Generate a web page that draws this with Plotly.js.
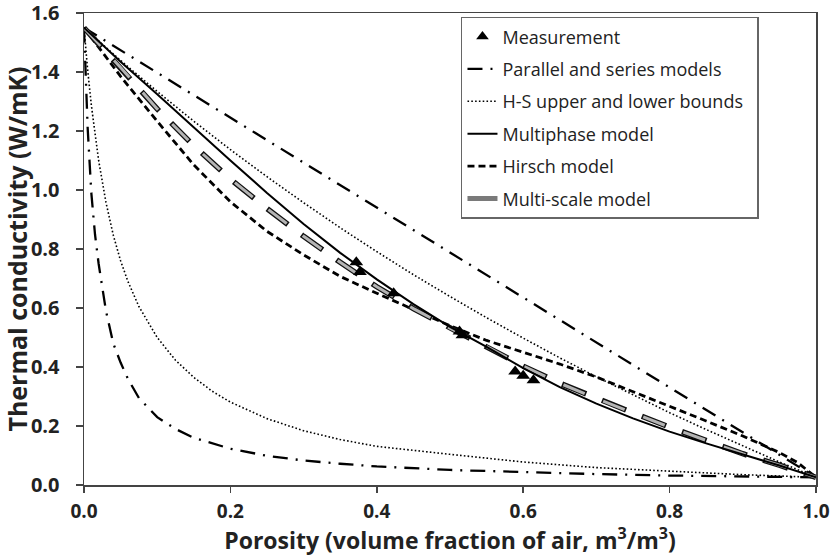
<!DOCTYPE html>
<html><head><meta charset="utf-8">
<script src="https://cdn.plot.ly/plotly-3.0.1.min.js"></script>
<style>html,body{margin:0;padding:0;background:#fff}</style>
</head><body><div id="chart" style="width:831px;height:556px"></div>
<script>
// Measurements
const measPorosity = [0.372, 0.377, 0.423, 0.513, 0.517, 0.589, 0.600, 0.614];
const measK        = [0.755, 0.722, 0.650, 0.520, 0.508, 0.385, 0.370, 0.355];

// Parallel (upper) and series (lower) models
const parPorosity = [0, 1];
const parK        = [1.55, 0.026];
const serPorosity = [0, 0.0025, 0.005, 0.01, 0.015, 0.02, 0.03, 0.04, 0.05, 0.06, 0.075, 0.1, 0.125, 0.15, 0.2, 0.25, 0.3, 0.35, 0.4, 0.5, 0.6, 0.7, 0.8, 0.9, 1.0];
const serK        = [1.55, 1.36, 1.21, 0.99, 0.85, 0.75, 0.59, 0.48, 0.415, 0.36, 0.295, 0.23, 0.19, 0.16, 0.123, 0.099, 0.083, 0.072, 0.063, 0.051, 0.043, 0.037, 0.032, 0.029, 0.026];

// H-S upper and lower bounds
const hsUpPorosity = [0, 0.05, 0.1, 0.15, 0.2, 0.25, 0.3, 0.35, 0.4, 0.45, 0.5, 0.55, 0.6, 0.65, 0.7, 0.75, 0.8, 0.85, 0.9, 0.95, 1.0];
const hsUpK        = [1.55, 1.439, 1.334, 1.233, 1.137, 1.045, 0.957, 0.872, 0.791, 0.713, 0.639, 0.567, 0.498, 0.431, 0.367, 0.305, 0.245, 0.188, 0.132, 0.078, 0.026];
const hsLoPorosity = [0, 0.0025, 0.005, 0.01, 0.015, 0.02, 0.03, 0.04, 0.05, 0.06, 0.075, 0.1, 0.125, 0.15, 0.175, 0.2, 0.25, 0.3, 0.35, 0.4, 0.5, 0.6, 0.7, 0.8, 0.9, 1.0];
const hsLoK        = [1.55, 1.475, 1.407, 1.288, 1.187, 1.100, 0.958, 0.847, 0.760, 0.690, 0.605, 0.500, 0.423, 0.365, 0.318, 0.281, 0.225, 0.184, 0.154, 0.131, 0.104, 0.078, 0.059, 0.046, 0.035, 0.026];

// Multiphase model
const mpPorosity = [0, 0.05, 0.1, 0.15, 0.2, 0.25, 0.3, 0.35, 0.4, 0.45, 0.5, 0.55, 0.6, 0.65, 0.7, 0.75, 0.8, 0.85, 0.9, 0.95, 1.0];
const mpK        = [1.55, 1.435, 1.325, 1.212, 1.10, 0.99, 0.885, 0.787, 0.697, 0.613, 0.536, 0.468, 0.396, 0.332, 0.276, 0.226, 0.181, 0.141, 0.104, 0.066, 0.026];

// Hirsch model
const hiPorosity = [0, 0.05, 0.1, 0.15, 0.2, 0.25, 0.3, 0.35, 0.4, 0.45, 0.5, 0.55, 0.6, 0.65, 0.7, 0.75, 0.8, 0.85, 0.9, 0.95, 0.975, 1.0];
const hiK        = [1.55, 1.385, 1.233, 1.085, 0.96, 0.86, 0.78, 0.707, 0.65, 0.595, 0.54, 0.49, 0.45, 0.41, 0.366, 0.317, 0.267, 0.217, 0.166, 0.11, 0.076, 0.026];

// Multi-scale model
const msPorosity = [0, 0.05, 0.1, 0.15, 0.2, 0.25, 0.3, 0.35, 0.4, 0.45, 0.5, 0.55, 0.6, 0.65, 0.7, 0.75, 0.8, 0.85, 0.9, 0.95, 1.0];
const msK        = [1.55, 1.415, 1.275, 1.15, 1.037, 0.937, 0.843, 0.755, 0.672, 0.598, 0.532, 0.469, 0.403, 0.345, 0.293, 0.245, 0.196, 0.151, 0.106, 0.067, 0.026];

const xTicks = [0, 0.2, 0.4, 0.6, 0.8, 1.0];
const xTickText = ['0.0', '0.2', '0.4', '0.6', '0.8', '1.0'];
const yTicks = [0, 0.2, 0.4, 0.6, 0.8, 1.0, 1.2, 1.4, 1.6];
const yTickText = ['0.0', '0.2', '0.4', '0.6', '0.8', '1.0', '1.2', '1.4', '1.6'];

const FONT = 'Open Sans, Noto Sans, sans-serif';
const dashDot = '15px,8px,2px,8px';
const dotted = '1.6px,2.2px';
const hirschDash = '7px,4px';
const NB = '\u00a0';

const traces = [
  {x: parPorosity, y: parK, mode: 'lines', line: {color: '#000', width: 2.3, dash: dashDot}, showlegend: false, hoverinfo: 'skip'},
  {x: serPorosity, y: serK, mode: 'lines', line: {color: '#000', width: 2.3, dash: dashDot}, showlegend: false, hoverinfo: 'skip'},
  {x: hsUpPorosity, y: hsUpK, mode: 'lines', line: {color: '#000', width: 1.6, dash: dotted}, showlegend: false, hoverinfo: 'skip'},
  {x: hsLoPorosity, y: hsLoK, mode: 'lines', line: {color: '#000', width: 1.6, dash: dotted}, showlegend: false, hoverinfo: 'skip'},
  {x: hiPorosity, y: hiK, mode: 'lines', line: {color: '#000', width: 2.8, dash: hirschDash}, showlegend: false, hoverinfo: 'skip'},
  {x: msPorosity, y: msK, mode: 'lines', line: {color: '#111', width: 5.5, dash: '26px,17px'}, showlegend: false, hoverinfo: 'skip'},
  {x: msPorosity, y: msK, mode: 'lines', line: {color: '#b4b4b4', width: 3, dash: '0px,1.5px,23px,18.5px'}, showlegend: false, hoverinfo: 'skip'},
  {x: mpPorosity, y: mpK, mode: 'lines', line: {color: '#000', width: 2}, showlegend: false, hoverinfo: 'skip'},
  {x: measPorosity, y: measK, mode: 'markers', marker: {symbol: 'triangle-up', size: 12, color: '#000'}, showlegend: false, hoverinfo: 'skip'},
  // legend entries
  {x: [null], y: [null], mode: 'markers', name: 'Measurement', marker: {symbol: 'triangle-up', size: 11, color: '#000'}, legendgroup: 'a'},
  {x: [null], y: [null], mode: 'lines', name: 'Parallel and series models', line: {color: '#000', width: 2.3, dash: dashDot}, legendgroup: 'b'},
  {x: [null], y: [null], mode: 'lines', name: 'H-S upper and lower bounds' + NB + NB, line: {color: '#000', width: 1.6, dash: dotted}, legendgroup: 'c'},
  {x: [null], y: [null], mode: 'lines', name: 'Multiphase model', line: {color: '#000', width: 2}, legendgroup: 'd'},
  {x: [null], y: [null], mode: 'lines', name: 'Hirsch model', line: {color: '#000', width: 2.8, dash: hirschDash}, legendgroup: 'e'},
  {x: [null], y: [null], mode: 'lines', name: 'Multi-scale model', line: {color: '#7a7a7a', width: 5}, legendgroup: 'f'}
];

const layout = {
  width: 831, height: 556,
  margin: {l: 84, r: 15, t: 13, b: 71},
  paper_bgcolor: '#fff', plot_bgcolor: '#fff',
  font: {family: FONT, color: '#222'},
  showlegend: true,
  legend: {
    x: 0.515, y: 0.992, xanchor: 'left', yanchor: 'top',
    bgcolor: '#fff', bordercolor: '#666', borderwidth: 1.5,
    font: {family: FONT, size: 18, color: '#222'},
    tracegroupgap: 6, traceorder: 'grouped'
  },
  xaxis: {
    range: [0, 1], tickvals: xTicks, ticktext: xTickText,
    showgrid: false, zeroline: false,
    showline: true, linecolor: '#444', linewidth: 1.5, mirror: true,
    ticks: 'outside', ticklen: 6, tickwidth: 1.5, tickcolor: '#444',
    tickfont: {family: FONT, size: 19, weight: 'bold', color: '#222'},
    ticklabelstandoff: 3, ticklabeloverflow: 'allow',
    title: {text: 'Porosity (volume fraction of air, m<sup>3</sup>/m<sup>3</sup>)', font: {family: FONT, size: 23, weight: 'bold', color: '#222'}, standoff: 5}
  },
  yaxis: {
    range: [0, 1.6], tickvals: yTicks, ticktext: yTickText,
    showgrid: false, zeroline: false,
    showline: true, linecolor: '#444', linewidth: 1.5, mirror: true,
    ticks: 'outside', ticklen: 7, tickwidth: 1.5, tickcolor: '#444',
    tickfont: {family: FONT, size: 20, weight: 'bold', color: '#222'},
    ticklabelstandoff: 12, ticklabeloverflow: 'allow',
    title: {text: 'Thermal conductivity (W/mK)', font: {family: FONT, size: 25, weight: 'bold', color: '#222'}, standoff: 2}
  }
};

Plotly.newPlot('chart', traces, layout, {displayModeBar: false, staticPlot: true});
</script>
</body></html>
